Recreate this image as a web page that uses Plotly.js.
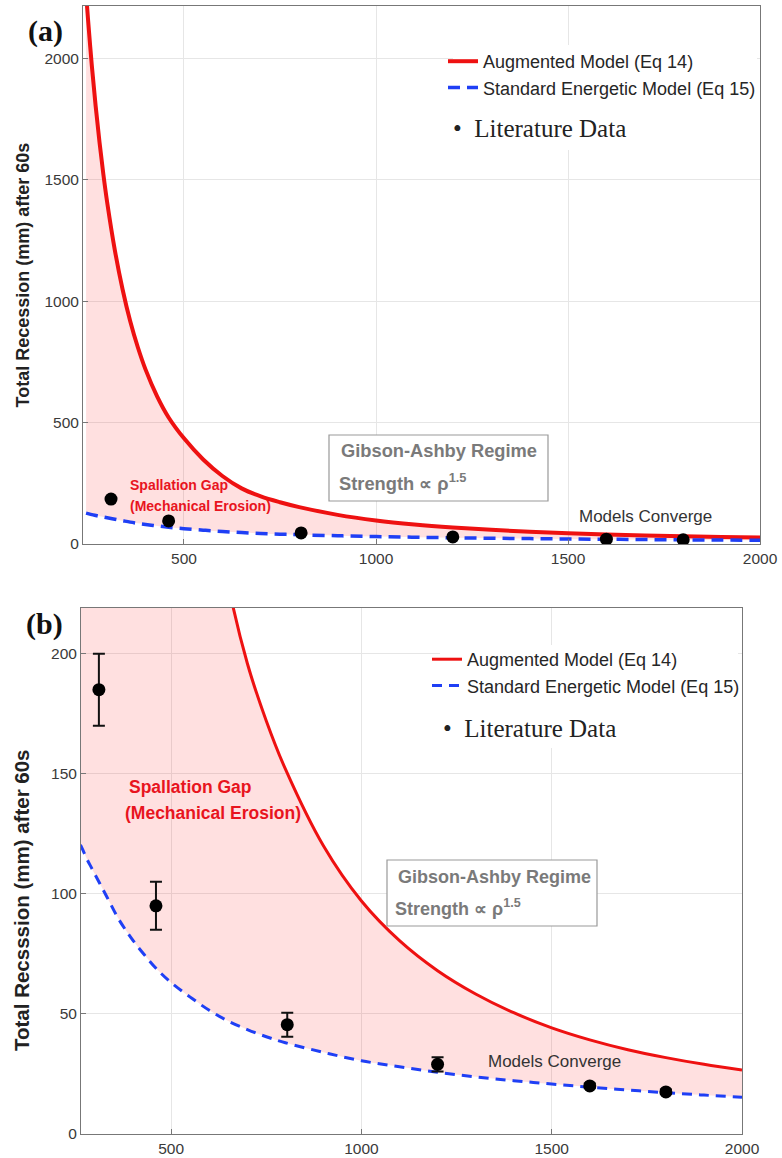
<!DOCTYPE html>
<html><head><meta charset="utf-8">
<script src="https://cdn.plot.ly/plotly-3.0.1.min.js"></script>
<style>html,body{margin:0;padding:0;background:#fff}#chart{width:782px;height:1158px}</style>
</head><body><div id="chart"></div>
<script>
// ---- data ----
const densityGrid = [245,250,260,270,280,290,300,320,340,360,380,400,430,460,500,550,600,650,700,750,800,900,1000,1100,1200,1300,1400,1500,1600,1700,1800,1900,2000];
const augmentedModel = [2267,2162,1969,1802,1654,1522,1406,1209,1049,917,809,718,608,521,435,348,280,229,196,172,152,120,97,80.5,68,58.3,50.5,44.2,39.2,35.1,31.8,29,26.6];
const standardModel = [127,125,121,117.5,114,111,108,102,96,90,85,80.5,74.5,69,63,57,51.5,47,43.5,40.5,38,34,30.5,28,25.7,23.8,22.2,20.8,19.5,18.3,17.2,16.2,15.3];
const litDensity = [310,460,805,1200,1600,1800];
const litRecession = [185,95,45.5,29,20,17.5];
const litError = [15,10,5,3,1,1];
const xTicks = [500,1000,1500,2000];
const yTicksA = [0,500,1000,1500,2000];
const yTicksB = [0,50,100,150,200];
const nameAug = 'Augmented Model (Eq 14)';
const nameStd = 'Standard Energetic Model (Eq 15)';

const W = 782, H = 1158;
const px = v => v / W;
const py = v => 1 - v / H;
const RED = '#ee1111', BLUE = '#1f3ff5';

function panelTraces(xa, ya, leg, redW, blueW, dash, showErr) {
  return [
    {x: densityGrid, y: standardModel, xaxis: xa, yaxis: ya, mode: 'lines', line: {width: 0, shape: 'spline'}, showlegend: false, hoverinfo: 'skip'},
    {x: densityGrid, y: augmentedModel, xaxis: xa, yaxis: ya, mode: 'lines', line: {width: 0, shape: 'spline'}, fill: 'tonexty', fillcolor: 'rgba(255,0,0,0.12)', showlegend: false, hoverinfo: 'skip'},
    {x: densityGrid, y: augmentedModel, xaxis: xa, yaxis: ya, mode: 'lines', name: nameAug, legend: leg, line: {color: RED, width: redW, shape: 'spline'}},
    {x: densityGrid, y: standardModel, xaxis: xa, yaxis: ya, mode: 'lines', name: nameStd, legend: leg, line: {color: BLUE, width: blueW, dash: dash, shape: 'spline'}},
    {x: litDensity, y: litRecession, xaxis: xa, yaxis: ya, mode: 'markers', showlegend: false,
     marker: {size: 13, color: '#000'},
     error_y: {type: 'data', array: litError, visible: showErr, color: '#111', thickness: 2, width: 6}}
  ];
}

const data = [].concat(
  panelTraces('x', 'y', 'legend', 4, 3.5, '12px,7px', false),
  panelTraces('x2', 'y2', 'legend2', 3, 3, '10px,7px', true)
);

const tickFont = {family: 'Liberation Sans, Arial, sans-serif', size: 15.5, color: '#3a3a3a'};
const axisCommon = {
  showgrid: true, gridcolor: '#e6e6e6', gridwidth: 1,
  showline: true, linecolor: '#777', linewidth: 1, mirror: true,
  ticks: 'inside', ticklen: 5, tickcolor: '#777',
  zeroline: false, tickfont: tickFont, automargin: false
};
const titleFont = {family: 'Liberation Sans, Arial, sans-serif', size: 18, color: '#222'};
const legFont = {family: 'Liberation Sans, Arial, sans-serif', size: 18, color: '#262626'};

const layout = {
  width: W, height: H,
  margin: {l: 0, r: 0, t: 0, b: 0},
  paper_bgcolor: '#fff', plot_bgcolor: '#fff',
  xaxis: Object.assign({}, axisCommon, {domain: [px(83), px(760)], range: [237, 2000], tickvals: xTicks, anchor: 'y'}),
  yaxis: Object.assign({}, axisCommon, {domain: [py(544), py(6)], range: [0, 2215], tickvals: yTicksA, anchor: 'x',
    title: {text: '<b>Total Recession (mm) after 60s</b>', font: titleFont, standoff: 10}}),
  xaxis2: Object.assign({}, axisCommon, {domain: [px(81), px(742)], range: [263, 2000], tickvals: xTicks, anchor: 'y2'}),
  yaxis2: Object.assign({}, axisCommon, {domain: [py(1134), py(608)], range: [0, 219], tickvals: yTicksB, anchor: 'x2'}),
  legend: {x: px(443), y: py(43), xanchor: 'left', yanchor: 'top', bgcolor: 'rgba(0,0,0,0)', borderwidth: 0,
    traceorder: 'normal', font: legFont},
  legend2: {x: px(427), y: py(641), xanchor: 'left', yanchor: 'top', bgcolor: 'rgba(0,0,0,0)', borderwidth: 0,
    traceorder: 'normal', font: legFont},
  shapes: [
    {type: 'rect', xref: 'paper', yref: 'paper', x0: px(453), x1: px(757), y0: py(150), y1: py(45), fillcolor: '#fff', line: {width: 0}, layer: 'above'},
    {type: 'rect', xref: 'paper', yref: 'paper', x0: px(440), x1: px(738), y0: py(748), y1: py(645), fillcolor: '#fff', line: {width: 0}, layer: 'above'},
    {type: 'rect', xref: 'paper', yref: 'paper', x0: px(329), x1: px(548), y0: py(501), y1: py(435), fillcolor: '#fff', line: {width: 1.2, color: '#999'}, layer: 'above'},
    {type: 'rect', xref: 'paper', yref: 'paper', x0: px(387), x1: px(597), y0: py(926), y1: py(860), fillcolor: '#fff', line: {width: 1.2, color: '#999'}, layer: 'above'}
  ],
  annotations: []
};

function ann(text, x, y, font, xanchor, yanchor, angle) {
  layout.annotations.push({xref: 'paper', yref: 'paper', x: px(x), y: py(y), text: text, showarrow: false,
    xanchor: xanchor || 'left', yanchor: yanchor || 'middle', font: font, align: 'left', textangle: angle || 0});
}
const serif = 'Liberation Serif, Times New Roman, serif';
const sans = 'Liberation Sans, Arial, sans-serif';
// y-axis title of panel (b)
ann('<b>Total Recsssion (mm) after 60s</b>', 21, 900, {family: sans, size: 20.5, color: '#222'}, 'center', 'middle', -90);
ann('<b>(a)</b>', 45, 31, {family: serif, size: 30, color: '#111'}, 'center');
ann('<b>(b)</b>', 44, 624, {family: serif, size: 30, color: '#111'}, 'center');
ann('<b>Spallation Gap</b>', 128, 485, {family: sans, size: 14, color: '#e8141e'});
ann('<b>(Mechanical Erosion)</b>', 128, 506, {family: sans, size: 14, color: '#e8141e'});
ann('<b>Spallation Gap</b>', 127, 787, {family: sans, size: 17.5, color: '#e8141e'});
ann('<b>(Mechanical Erosion)</b>', 123, 813, {family: sans, size: 17.5, color: '#e8141e'});
ann('<b>Gibson-Ashby Regime</b>', 339, 450, {family: sans, size: 18.3, color: '#7a7a7a'});
ann('<b>Strength ∝ ρ<sup>1.5</sup></b>', 337, 496, {family: sans, size: 18.3, color: '#7a7a7a'}, 'left', 'bottom');
ann('<b>Gibson-Ashby Regime</b>', 396, 877, {family: sans, size: 18, color: '#7a7a7a'});
ann('<b>Strength ∝ ρ<sup>1.5</sup></b>', 393, 921, {family: sans, size: 18, color: '#7a7a7a'}, 'left', 'bottom');
ann('Models Converge', 577, 516, {family: sans, size: 17, color: '#333'});
ann('Models Converge', 486, 1061, {family: sans, size: 17, color: '#333'});
ann('•\u2002Literature Data', 451, 129, {family: serif, size: 25, color: '#222'});
ann('•\u2002Literature Data', 441, 728, {family: serif, size: 25, color: '#222'});

Plotly.newPlot('chart', data, layout, {displayModeBar: false, staticPlot: true});
</script>
</body></html>
